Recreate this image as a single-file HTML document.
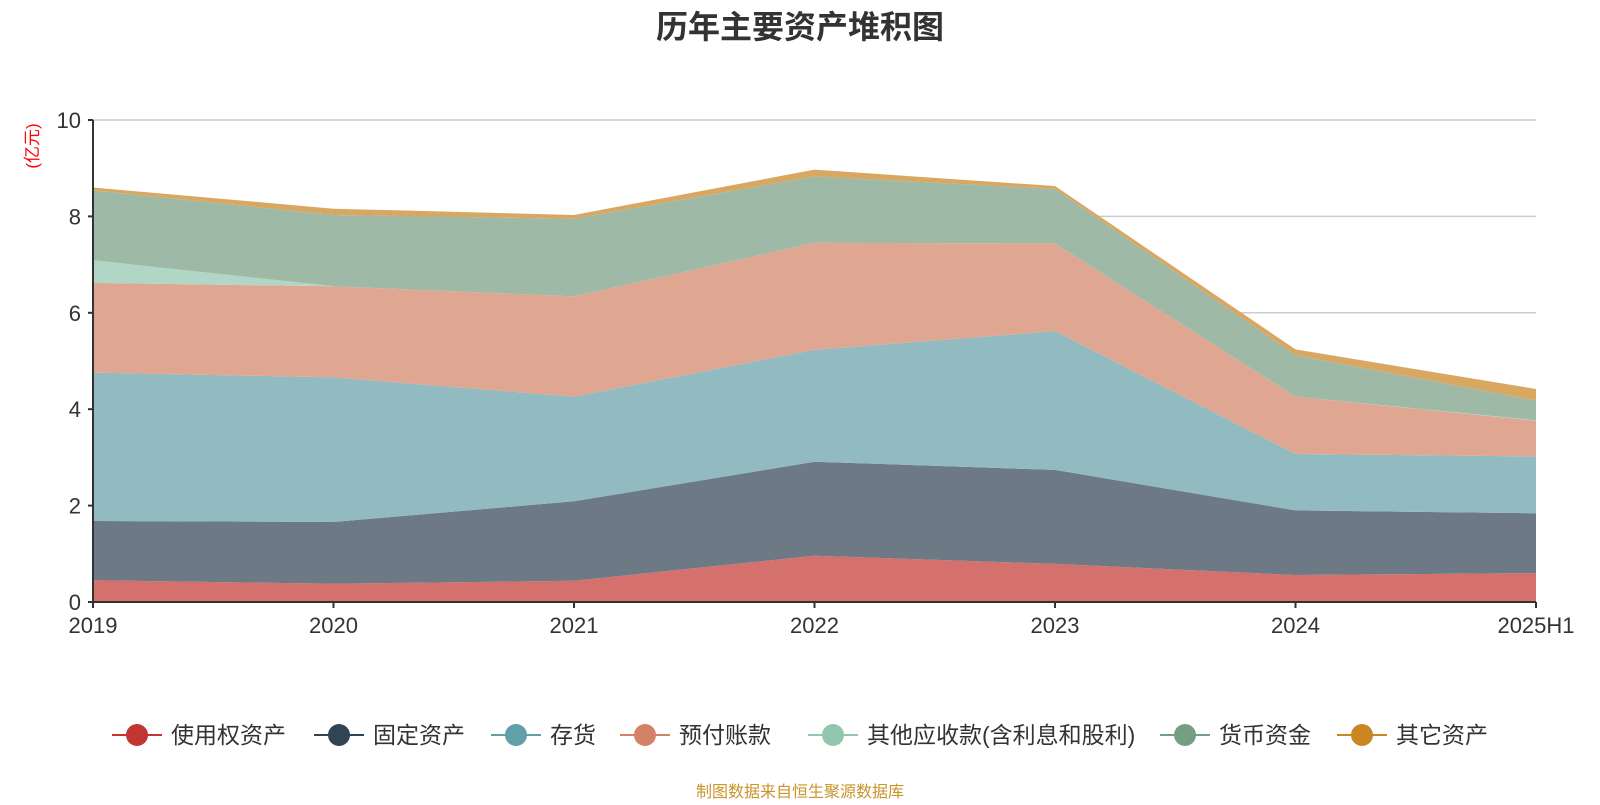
<!DOCTYPE html>
<html><head><meta charset="utf-8"><style>
body{margin:0;background:#fff;width:1600px;height:800px;overflow:hidden;font-family:"Liberation Sans","Noto Sans CJK SC",sans-serif}
</style></head><body>
<svg width="1600" height="800" id="chart" style="font-family:'Liberation Sans','Noto Sans CJK SC',sans-serif">
<text x="800" y="38" text-anchor="middle" font-size="32" font-weight="bold" fill="#333">历年主要资产堆积图</text>
<text transform="translate(38,146) rotate(-90)" text-anchor="middle" font-size="17" fill="#f00">(亿元)</text>
<g id="grid"></g><g id="areas"></g><g id="axes"></g><g id="legend"></g>
<text x="800" y="797" text-anchor="middle" font-size="16" fill="#c8952a">制图数据来自恒生聚源数据库</text>
</svg>
<script>
const categories=["2019","2020","2021","2022","2023","2024","2025H1"];
const seriesNames=["使用权资产","固定资产","存货","预付账款","其他应收款(含利息和股利)","货币资金","其它资产"];
const rightOfUse=[0.45,0.38,0.44,0.96,0.79,0.56,0.60];
const fixedAssets=[1.23,1.28,1.65,1.95,1.95,1.34,1.24];
const inventory=[3.08,3.00,2.17,2.32,2.88,1.17,1.18];
const prepayments=[1.86,1.89,2.08,2.22,1.82,1.19,0.74];
const otherReceivables=[0.47,0,0,0,0,0,0.01];
const cash=[1.45,1.48,1.61,1.38,1.13,0.86,0.41];
const otherAssets=[0.06,0.13,0.08,0.14,0.06,0.12,0.24];
const yTicks=[0,2,4,6,8,10];
const series=[rightOfUse,fixedAssets,inventory,prepayments,otherReceivables,cash,otherAssets];
const fills=["#d4716d","#6d7a86","#91bac1","#dfa792","#b0d6c6","#9fb9a7","#d8a862"];
const markers=["#c23531","#2f4554","#61a0a8","#d48265","#91c7ae","#749f83","#ca8622"];
const L=93,R=1536,T=120,B=602,yMax=10;
const x=i=>L+(R-L)*i/(categories.length-1);
const y=v=>B-(B-T)*v/yMax;
const NS="http://www.w3.org/2000/svg";
function mk(t,a,p){const e=document.createElementNS(NS,t);for(const k in a)e.setAttribute(k,a[k]);p.appendChild(e);return e;}
const grid=document.getElementById('grid'),areas=document.getElementById('areas'),axes=document.getElementById('axes'),legend=document.getElementById('legend');
yTicks.forEach(t=>{
 if(t>0){const g=mk('line',{x1:L,x2:R,y1:y(t),y2:y(t),stroke:'#ccc','stroke-width':1.5},grid);
 
 }
 const tl=mk('text',{x:L-12,y:y(t)+8,'text-anchor':'end','font-size':22,fill:'#333'},axes);tl.textContent=t;
 
 
 mk('line',{x1:L-5,x2:L,y1:y(t),y2:y(t),stroke:'#333','stroke-width':2},axes);
});
let base=categories.map(()=>0);
series.forEach((s,si)=>{
 const top=base.map((b,i)=>b+s[i]);
 let d='M'+categories.map((c,i)=>x(i)+','+y(top[i])).join('L');
 for(let i=categories.length-1;i>=0;i--)d+='L'+x(i)+','+y(base[i]);
 const p=mk('path',{d:d+'Z',fill:fills[si]},areas);
 
 
 base=top;
});
mk('line',{x1:L,x2:L,y1:T,y2:B,stroke:'#333','stroke-width':2},axes);
mk('line',{x1:L,x2:R,y1:B,y2:B,stroke:'#333','stroke-width':2},axes);
categories.forEach((c,i)=>{
 mk('line',{x1:x(i),x2:x(i),y1:B,y2:B+6,stroke:'#333','stroke-width':2},axes);
 const t=mk('text',{x:x(i),y:B+31,'text-anchor':'middle','font-size':22,fill:'#333'},axes);t.textContent=c;
 
 
});
const lx=[137,339,516,645,833,1185,1362];
seriesNames.forEach((n,i)=>{
 const g=mk('g',{},legend);
 
 
 mk('line',{x1:lx[i]-25,x2:lx[i]+25,y1:735,y2:735,stroke:markers[i],'stroke-width':2},g);
 mk('circle',{cx:lx[i],cy:735,r:11,fill:markers[i]},g);
 const t=mk('text',{x:lx[i]+34,y:743,'font-size':23,fill:'#333'},g);t.textContent=n;
});
</script>
</body></html>
